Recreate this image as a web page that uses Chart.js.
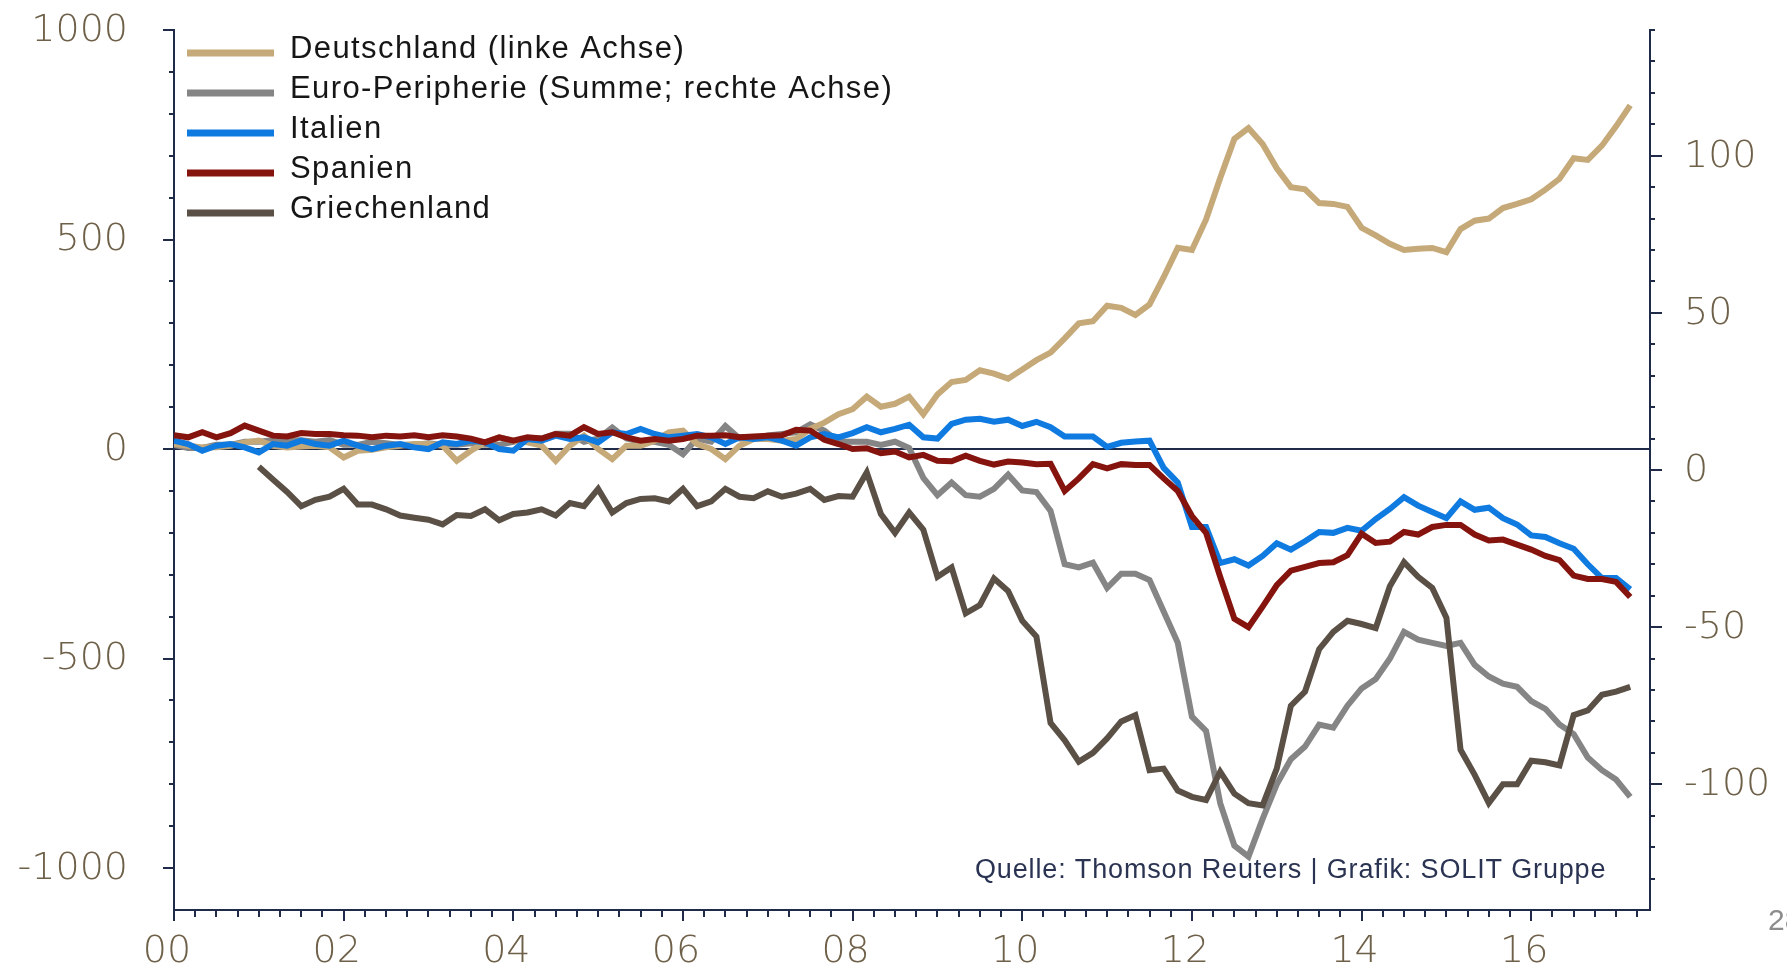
<!DOCTYPE html>
<html lang="de">
<head>
<meta charset="utf-8">
<title>Deutschland und Euro-Peripherie</title>
<script src="https://cdn.jsdelivr.net/npm/chart.js@4.4.1/dist/chart.umd.min.js"></script>
<style>
  html, body { margin: 0; padding: 0; background: #fff; }
  canvas { display: block; }
</style>
</head>
<body>
<canvas id="chart" width="1787" height="966"></canvas>
<script>
// Werte alle zwei Monate, ab Januar 2000
const startJahr = 2000;
const schrittMonate = 2;

// linke Achse
const deutschland = [
  12, 8, 4, 4, 8, 16, 20, 8, 4, 6, 8, 4,
  -20, -4, -2, 4, 8, 12, 12, 8, -28, -4, 16, 28,
  20, 16, 8, -28, 8, 32, 0, -24, 8, 8, 20, 40,
  44, 12, 0, -24, 8, 24, 24, 20, 24, 48, 63, 83,
  95, 125, 101, 108, 125, 83, 130, 160, 165, 188, 180, 168,
  190, 212, 230, 264, 300, 305, 342, 337, 320, 345, 410, 480,
  475, 548, 647, 740, 766, 728, 670, 625, 620, 587, 585, 578,
  528, 510, 490, 475, 478, 480, 470, 525, 545, 550, 575, 585,
  596, 619, 645, 694, 690, 724, 770, 820
];
// rechte Achse
const euroPeripherie = [
  8, 7, 7, 8, 8, 9, 9, 9.5, 9.5, 9.5, 9, 9.5,
  8, 8, 9, 8.5, 8, 8, 8.5, 8, 8, 8.5, 8, 8,
  9, 10, 10, 11.5, 11.5, 9, 10, 13.5, 10, 9, 9, 8,
  5, 10, 9, 14, 10, 10, 11, 11.5, 12, 14.5, 12.5, 9,
  9, 9, 8, 9, 7, -2.5, -8, -4, -8, -8.5, -6, -1.5,
  -6.5, -7, -13, -30, -31, -29.5, -37.5, -33, -33, -35, -45, -55,
  -78.5, -83, -106, -119.5, -123, -111, -100, -92, -88, -81, -82, -75,
  -69.5, -66.5, -60, -51.5, -54, -55, -56, -55, -62, -65.7, -68, -69,
  -73.5, -76, -81, -84, -91.5, -95.5, -98.5, -104
];
// linke Achse
const italien = [
  20, 12, -4, 8, 12, 4, -8, 12, 8, 20, 12, 8,
  20, 8, 0, 8, 12, 4, 0, 16, 12, 20, 16, 0,
  -4, 24, 20, 32, 24, 28, 16, 40, 36, 48, 36, 28,
  32, 36, 28, 12, 28, 24, 28, 20, 8, 28, 36, 28,
  38, 52, 40, 48, 58, 28, 25, 60, 70, 72, 65, 70,
  55, 65, 52, 30, 30, 30, 5, 15, 18, 20, -45, -80,
  -186, -186, -272, -263, -278, -255, -225, -240, -220, -198, -200, -188,
  -195, -167, -143, -115, -135, -150, -165, -125, -145, -140, -165, -180,
  -206, -210, -225, -238, -275, -308, -308, -335
];
// linke Achse
const spanien = [
  33, 28, 40, 28, 38, 56, 44, 32, 30, 38, 36, 36,
  33, 32, 28, 32, 30, 33, 28, 33, 30, 25, 16, 28,
  20, 28, 25, 36, 32, 52, 36, 40, 28, 20, 24, 20,
  24, 32, 32, 33, 28, 30, 32, 33, 46, 44, 22, 12,
  0, 2, -10, -6, -20, -14, -28, -29, -16, -28, -37, -30,
  -32, -36, -35, -100, -70, -36, -46, -36, -38, -38, -70, -100,
  -160, -200, -305, -405, -425, -376, -325, -290, -281, -272, -270, -253,
  -202, -224, -221, -198, -204, -186, -181, -181, -204, -218, -216, -228,
  -240, -255, -265, -302, -310, -310, -317, -353
];
// rechte Achse, Daten ab 2001
const griechenland = [
  null, null, null, null, null, null, 1, -3, -7, -11.5, -9.5, -8.5,
  -6, -11, -11, -12.5, -14.5, -15.2, -15.8, -17.3, -14.3, -14.6, -12.5, -16,
  -14, -13.5, -12.5, -14.5, -10.5, -11.5, -6, -13.5, -10.5, -9.2, -9, -10,
  -6, -11.5, -10, -6, -8.5, -9, -6.8, -8.5, -7.5, -6, -9.5, -8.3,
  -8.5, -0.8, -14, -20, -13.5, -19, -34, -31, -45.6, -43, -34.5, -38.5,
  -48, -53, -80.5, -86, -92.8, -90, -85.4, -80, -78, -95.5, -95, -102,
  -104, -105, -96, -103, -106, -106.7, -95, -75, -70.5, -57, -51.5, -48,
  -49, -50.3, -37, -29.3, -34, -37.5, -47, -89, -97, -106, -100, -100,
  -92.5, -93, -94, -78, -76.5, -71.5, -70.5, -69
];

const zeitpunkte = deutschland.map((_, i) => startJahr + i * schrittMonate / 12);

const jahreTicks = [2000, 2002, 2004, 2006, 2008, 2010, 2012, 2014, 2016];
const linkeTicks = [-1000, -500, 0, 500, 1000];
const rechteTicks = [-100, -50, 0, 50, 100];

const navy = '#1f2b49';
const labelFarbe = '#6f6149';
const tickFont = { family: 'DejaVu Sans', size: 38, weight: 200 };

function punkte(werte) {
  return werte.map((v, i) => ({ x: zeitpunkte[i], y: v }));
}

// feste Achsenbreiten, damit die Zeichenflaeche wie im Original liegt
function festeBreite(w) {
  return s => { s.width = w; s.paddingTop = 0; s.paddingBottom = 0; };
}

// kleine und grosse Striche an allen drei Achsen
const achsenStriche = {
  id: 'achsenStriche',
  afterDraw(chart) {
    const { ctx, scales: { x, y, y1 } } = chart;
    ctx.save();
    ctx.strokeStyle = navy;
    ctx.lineWidth = 2;
    ctx.beginPath();
    for (let v = -1000; v <= 1000; v += 100) {
      const py = Math.round(y.getPixelForValue(v));
      const len = v % 500 === 0 ? 11 : 5;
      ctx.moveTo(y.right, py);
      ctx.lineTo(y.right - len, py);
    }
    for (let v = -130; v <= 140; v += 10) {
      const py = Math.round(y1.getPixelForValue(v));
      const len = v % 50 === 0 ? 12 : 5;
      ctx.moveTo(y1.left, py);
      ctx.lineTo(y1.left + len, py);
    }
    for (let q = 0; q <= 69; q++) {
      const jahr = 2000 + q / 4;
      const px = Math.round(x.getPixelForValue(jahr));
      const len = q % 8 === 0 ? 11 : 7;
      ctx.moveTo(px, x.top);
      ctx.lineTo(px, x.top + len);
    }
    ctx.stroke();
    ctx.restore();
  }
};

// Legende oben links im Diagramm, Quelle und Seitenzahl
const beschriftung = {
  id: 'beschriftung',
  afterDraw(chart) {
    const { ctx } = chart;
    ctx.save();
    chart.data.datasets.forEach((ds, i) => {
      const yMitte = 53 + i * 40;
      ctx.strokeStyle = ds.borderColor;
      ctx.lineWidth = 7;
      ctx.beginPath();
      ctx.moveTo(187, yMitte);
      ctx.lineTo(274, yMitte);
      ctx.stroke();
      ctx.fillStyle = '#161616';
      ctx.font = '31px "Liberation Sans"';
      ctx.letterSpacing = '1.4px';
      ctx.textBaseline = 'alphabetic';
      ctx.fillText(ds.label, 290, yMitte + 4.5);
    });
    ctx.fillStyle = '#2a3452';
    ctx.font = '27px "Liberation Sans"';
    ctx.letterSpacing = '0.85px';
    ctx.fillText('Quelle: Thomson Reuters | Grafik: SOLIT Gruppe', 975, 878);
    ctx.fillStyle = '#8c8c8c';
    ctx.font = '30px "Liberation Sans"';
    ctx.letterSpacing = '0px';
    ctx.fillText('28', 1768, 930);
    ctx.restore();
  }
};

const linie = { borderWidth: 6, pointRadius: 0, tension: 0, fill: false };

new Chart(document.getElementById('chart'), {
  type: 'line',
  data: {
    datasets: [
      { ...linie, label: 'Deutschland (linke Achse)', data: punkte(deutschland), borderColor: '#c6a978', yAxisID: 'y', order: 3 },
      { ...linie, label: 'Euro-Peripherie (Summe; rechte Achse)', data: punkte(euroPeripherie), borderColor: '#858585', yAxisID: 'y1', order: 4 },
      { ...linie, label: 'Italien', data: punkte(italien), borderColor: '#0f7ae0', yAxisID: 'y', order: 1 },
      { ...linie, label: 'Spanien', data: punkte(spanien), borderColor: '#85140e', yAxisID: 'y', order: 0 },
      { ...linie, label: 'Griechenland', data: punkte(griechenland), borderColor: '#5a5046', yAxisID: 'y1', order: 2 }
    ]
  },
  options: {
    responsive: false,
    animation: false,
    events: [],
    layout: { padding: { top: 30, left: 0, right: 0, bottom: 0 } },
    plugins: { legend: { display: false }, tooltip: { enabled: false } },
    scales: {
      x: {
        type: 'linear',
        min: 2000,
        max: 2017.4,
        afterBuildTicks: s => { s.ticks = jahreTicks.map(v => ({ value: v })); },
        afterFit: s => { s.height = 56; s.paddingLeft = 0; s.paddingRight = 0; },
        grid: { display: false, drawTicks: false },
        border: { color: navy, width: 2 },
        ticks: {
          padding: 19,
          labelOffset: -7,
          maxRotation: 0,
          autoSkip: false,
          color: labelFarbe,
          font: tickFont,
          callback: v => String(v - 2000).padStart(2, '0')
        }
      },
      y: {
        position: 'left',
        min: -1100,
        max: 1000,
        afterBuildTicks: s => { s.ticks = linkeTicks.map(v => ({ value: v })); },
        afterFit: festeBreite(174),
        grid: {
          drawTicks: false,
          lineWidth: 2,
          color: c => (c.tick && c.tick.value === 0 ? navy : 'rgba(0,0,0,0)')
        },
        border: { color: navy, width: 2 },
        ticks: { padding: 46, labelOffset: 1, color: labelFarbe, font: tickFont, callback: v => String(v) }
      },
      y1: {
        position: 'right',
        min: -140,
        max: 140,
        afterBuildTicks: s => { s.ticks = rechteTicks.map(v => ({ value: v })); },
        afterFit: festeBreite(137),
        grid: { display: false, drawTicks: false },
        border: { color: navy, width: 2 },
        ticks: { padding: 34, labelOffset: 1, color: labelFarbe, font: tickFont, callback: v => String(v) }
      }
    }
  },
  plugins: [achsenStriche, beschriftung]
});
</script>
</body>
</html>
